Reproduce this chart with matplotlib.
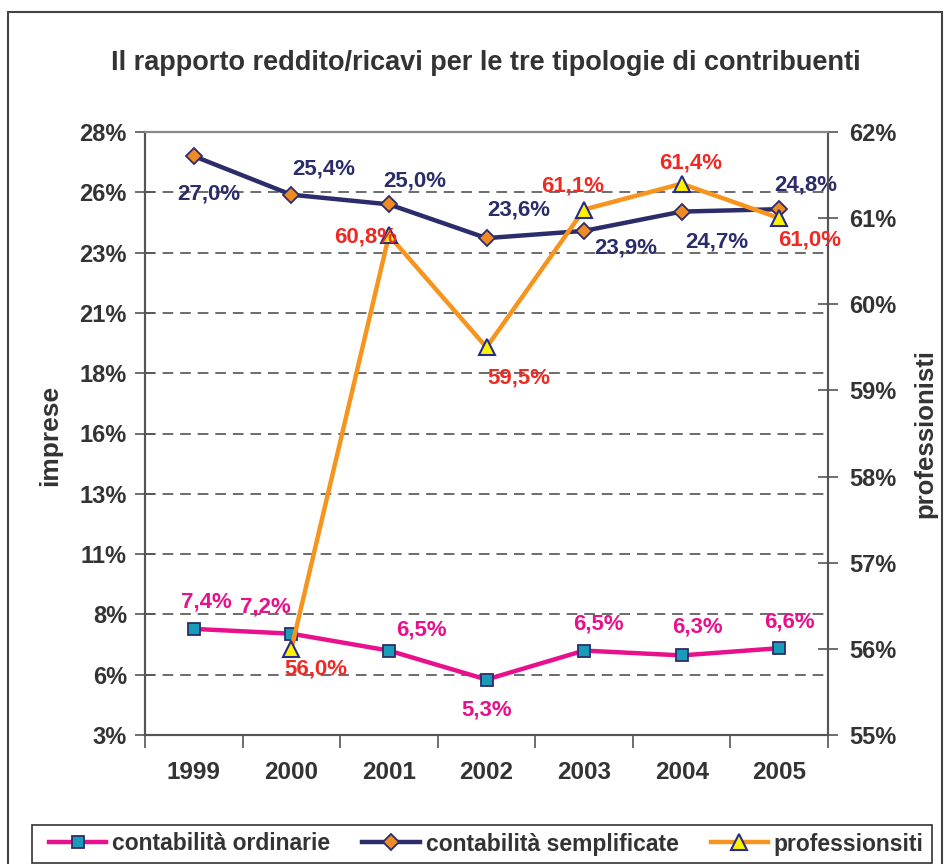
import matplotlib
matplotlib.use("Agg")
import matplotlib.pyplot as plt
from matplotlib.patches import Rectangle
from matplotlib.lines import Line2D

plt.rcParams['font.family'] = ['Liberation Sans', 'DejaVu Sans']

years = ['1999', '2000', '2001', '2002', '2003', '2004', '2005']
ordinarie = [7.4, 7.2, 6.5, 5.3, 6.5, 6.3, 6.6]
semplificate = [27.0, 25.4, 25.0, 23.6, 23.9, 24.7, 24.8]
prof_years = ['2000', '2001', '2002', '2003', '2004', '2005']
professionisti = [56.0, 60.8, 59.5, 61.1, 61.4, 61.0]

left_ticks = [3, 5.5, 8, 10.5, 13, 15.5, 18, 20.5, 23, 25.5, 28]
left_ticklabels = ['3%', '6%', '8%', '11%', '13%', '16%', '18%', '21%', '23%', '26%', '28%']
right_ticks = [55, 56, 57, 58, 59, 60, 61, 62]
right_ticklabels = ['55%', '56%', '57%', '58%', '59%', '60%', '61%', '62%']

title = 'Il rapporto reddito/ricavi per le tre tipologie di contribuenti'
series_names = ['contabilità ordinarie', 'contabilità semplificate', 'professionsiti']

# label offsets (pixels)
off_ord = [(13, 27), (-26, 27), (33, 21), (0, -30), (14, 27), (16, 28), (10, 26)]
off_sem = [(15, -38), (32, 26), (26, 23), (32, 28), (42, -17), (35, -30), (27, 24)]
off_pro = [(24, -20), (-23, -2), (32, -31), (-11, 24), (9, 21), (30, -22)]

C_ORD = '#E8108C'
C_SEM = '#2B2D6B'
C_PRO = '#F7941D'
C_PRO_TXT = '#EE2A24'
C_SQ = '#1A9BB8'
C_DIA = '#F08A24'
C_TRI = '#FFF200'
C_AX = '#555555'
C_TXT = '#333333'

fig = plt.figure(figsize=(9.5, 8.64), dpi=100)
W, H = 950, 864
ax = fig.add_axes([145 / W, 1 - 735 / H, 683 / W, 603 / H])
ax2 = ax.twinx()

xs = list(range(len(years)))
xp = [years.index(y) for y in prof_years]

ax.plot(xs, semplificate, color=C_SEM, lw=3.2, marker='D', ms=8.5,
        mfc=C_DIA, mec=C_SEM, mew=1.3, zorder=3)
ax.plot(xs, ordinarie, color=C_ORD, lw=3.2, marker='s', ms=9,
        mfc=C_SQ, mec=C_SEM, mew=1.3, zorder=3)
ax2.plot(xp, professionisti, color=C_PRO, lw=3.2, marker='^', ms=11,
         mfc=C_TRI, mec='#262C8C', mew=1.5, zorder=3)

def fmt(v):
    return ('%.1f%%' % v).replace('.', ',')

LBL = 16
for x, v, o in zip(xs, ordinarie, off_ord):
    ax.annotate(fmt(v), (x, v), xytext=o, textcoords='offset pixels',
                ha='center', va='center', fontsize=LBL, fontweight='bold', color=C_ORD, zorder=5)
for x, v, o in zip(xs, semplificate, off_sem):
    ax.annotate(fmt(v), (x, v), xytext=o, textcoords='offset pixels',
                ha='center', va='center', fontsize=LBL, fontweight='bold', color=C_SEM, zorder=5)
for x, v, o in zip(xp, professionisti, off_pro):
    ax2.annotate(fmt(v), (x, v), xytext=o, textcoords='offset pixels',
                 ha='center', va='center', fontsize=LBL, fontweight='bold', color=C_PRO_TXT, zorder=5)

ax.set_xlim(-0.5, len(years) - 0.5)
ax.set_ylim(left_ticks[0], left_ticks[-1])
ax2.set_ylim(right_ticks[0], right_ticks[-1])

ax.set_xticks([i - 0.5 for i in range(len(years) + 1)])
ax.set_xticklabels([])
ax.set_xticks(xs, minor=True)
ax.set_xticklabels(years, minor=True, fontsize=17.5, fontweight='bold', color=C_TXT)
ax.tick_params(axis='x', which='major', direction='out', length=9, width=1.2, color=C_AX)
ax.tick_params(axis='x', which='minor', length=0, pad=19)

ax.set_yticks(left_ticks)
ax.set_yticklabels(left_ticklabels, fontsize=17, fontweight='bold', color=C_TXT)
ax.tick_params(axis='y', direction='inout', length=14, width=1.2, color=C_AX, pad=6)

ax2.set_yticks(right_ticks)
ax2.set_yticklabels(right_ticklabels, fontsize=17, fontweight='bold', color=C_TXT)
ax2.tick_params(axis='y', direction='inout', length=14, width=1.2, color=C_AX, pad=8)

for g in left_ticks[1:-1]:
    ax.axhline(g, color='#444444', lw=1.1, ls=(0, (7, 4.5)), zorder=1)

for a in (ax, ax2):
    for s in a.spines.values():
        s.set_color(C_AX)
        s.set_linewidth(1.5)
ax2.spines['top'].set_color('#888888')

fig.text(486 / W, 1 - 63 / H, title, ha='center', va='center',
         fontsize=19.5, fontweight='bold', color=C_TXT)
fig.text(50 / W, 1 - 435 / H, 'imprese', rotation=90, ha='center', va='center',
         fontsize=19, fontweight='bold', color=C_TXT)
fig.text(925 / W, 1 - 433 / H, 'professionisti', rotation=90, ha='center', va='center',
         fontsize=18.5, fontweight='bold', color=C_TXT)

# outer chart frame
fig.patches.append(Rectangle((8 / W, -0.02), 934 / W, 1.02 - 12 / H, transform=fig.transFigure,
                             fill=False, edgecolor='#444444', lw=1.5))
# legend box
fig.patches.append(Rectangle((32 / W, 1 - 863 / H), 900 / W, 38 / H, transform=fig.transFigure,
                             fill=False, edgecolor='#333333', lw=1.2))

handles = [
    Line2D([], [], color=C_ORD, lw=3.2, marker='s', ms=9, mfc=C_SQ, mec=C_SEM, mew=1.3),
    Line2D([], [], color=C_SEM, lw=3.2, marker='D', ms=8.5, mfc=C_DIA, mec=C_SEM, mew=1.3),
    Line2D([], [], color=C_PRO, lw=3.2, marker='^', ms=11, mfc=C_TRI, mec='#262C8C', mew=1.5),
]
leg = fig.legend(handles, series_names, loc='center left', ncol=3,
                 bbox_to_anchor=(49 / W, 1 - 844 / H),
                 frameon=False, handlelength=2.5, handletextpad=0.26,
                 columnspacing=1.4, borderaxespad=0, borderpad=0,
                 prop={'size': 16.5, 'weight': 'bold'})
for t in leg.get_texts():
    t.set_color(C_TXT)

fig.savefig('out.png', dpi=100)
